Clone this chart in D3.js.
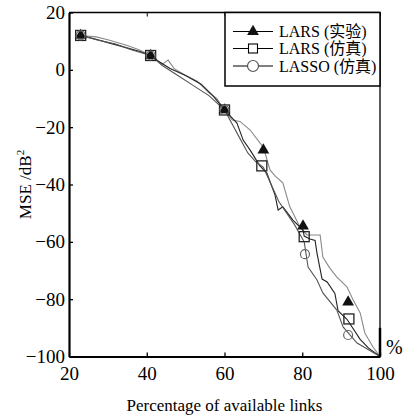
<!DOCTYPE html>
<html><head><meta charset="utf-8">
<script src="https://cdn.jsdelivr.net/npm/d3@7"></script>
<style>body{margin:0;background:#fff}svg{display:block}</style>
</head><body>
<script>
// ---- data ----
const xTicks = [20, 40, 60, 80, 100];
const yTicks = [20, 0, -20, -40, -60, -80, -100];
const seriesNames = ["LARS (实验)", "LARS (仿真)", "LASSO (仿真)"];
// LARS experiment (rightmost grey trace)
const larsExpX = [23,27,30,35,38,41,44,45.5,47,50,53,56,58,60,62,64,66.6,69.1,70,71.7,73,75,76.8,79.4,81.2,84.6,85.3,87,88.9,91.5,93,94.9,96.1,98.2,100];
const larsExpY = [12,11.5,10.5,8.5,7,5,2,3.4,0.5,-2,-4,-8,-10,-14,-17.5,-18,-21,-25.5,-27,-34.9,-37,-39.4,-47.8,-54.8,-57.6,-57.6,-65.3,-69,-72.3,-75.7,-80,-84.8,-91.8,-96.7,-100];
// LARS simulation
const larsSimX = [23,26,30,34,38,41,43,46,50,54,57,60,63.2,64.8,66.6,69.1,70.9,73,73.8,75,77.6,80.2,80.5,82,83.3,83.8,85.1,86.4,88.4,89.2,91.5,94.9,97,100];
const larsSimY = [12,11,9.5,8,6.5,5,3,0.5,-2,-5,-9,-14,-18.6,-24.5,-28,-33.5,-36,-43.7,-48.9,-47.8,-52.4,-55.9,-58,-59,-59.5,-64,-73,-74,-78,-84,-87,-94,-97,-100];
// LASSO simulation
const lassoX = [23,27,32,36,41,44,48,52,56,60,62,64,66,68,70,72,74,76,78,80.5,81.5,83.8,85.3,88.9,90.5,94.1,100];
const lassoY = [12,10.5,9,7,5,1.5,-2,-5.5,-9,-14,-19,-24,-29,-32,-34,-40,-46,-50,-54,-60,-68.8,-73.3,-77.8,-83.8,-89.7,-95.3,-100];
// marker points
const triX = [23,41,60,70,80.2,91.8];
const triY = [12,5,-14,-28,-54.5,-81];
const sqX  = [23,41,60,69.6,80.5,92];
const sqY  = [12,5,-14,-33.5,-58.2,-86.9];
const cirX = [23,41,60,80.7,91.8];
const cirY = [12,5,-14,-64.3,-92.5];

// ---- drawing ----
const W = 406, H = 417;
const m = {left: 69, right: 380, top: 12.5, bottom: 356.5};
const serif = "'Liberation Serif','Times New Roman','Noto Sans CJK SC',serif";
const svg = d3.select("body").append("svg").attr("width", W).attr("height", H);
const x = d3.scaleLinear().domain([20, 100]).range([m.left, m.right]);
const y = d3.scaleLinear().domain([-100, 20]).range([m.bottom, m.top]);

const pts = (xs, ys) => xs.map((v, i) => [v, ys[i]]);
const line = d3.line().x(d => x(d[0])).y(d => y(d[1]));

// lines
const lines = [
  {d: pts(larsExpX, larsExpY), c: "#8a8a8a"},
  {d: pts(larsSimX, larsSimY), c: "#222"},
  {d: pts(lassoX, lassoY), c: "#555"}
];
lines.forEach(l => svg.append("path").attr("d", line(l.d)).attr("fill", "none")
  .attr("stroke", l.c).attr("stroke-width", 1.1));

// markers
const g = svg.append("g");
g.selectAll(".tri").data(pts(triX, triY)).join("path")
  .attr("d", d3.symbol(d3.symbolTriangle, 60)())
  .attr("transform", d => `translate(${x(d[0])},${y(d[1])})`).attr("fill", "#111");
g.selectAll(".sq").data(pts(sqX, sqY)).join("rect")
  .attr("x", d => x(d[0]) - 5).attr("y", d => y(d[1]) - 5).attr("width", 10).attr("height", 10)
  .attr("fill", "none").attr("stroke", "#222").attr("stroke-width", 1.3);
g.selectAll(".ci").data(pts(cirX, cirY)).join("circle")
  .attr("cx", d => x(d[0])).attr("cy", d => y(d[1])).attr("r", 4.5)
  .attr("fill", "none").attr("stroke", "#666").attr("stroke-width", 1.2);

// frame
svg.append("line").attr("x1", m.left).attr("x2", m.right).attr("y1", m.top).attr("y2", m.top).attr("stroke", "#000").attr("stroke-width", 1.5);
svg.append("line").attr("x1", m.right).attr("x2", m.right).attr("y1", m.top).attr("y2", m.bottom).attr("stroke", "#000").attr("stroke-width", 1.3);
svg.append("line").attr("x1", m.right).attr("x2", m.right).attr("y1", y(-90)).attr("y2", m.bottom).attr("stroke", "#000").attr("stroke-width", 2.5);

// axes
const xAxis = d3.axisBottom(x).tickValues(xTicks).tickSizeInner(-4).tickSizeOuter(0).tickPadding(10);
const gx = svg.append("g").attr("transform", `translate(0,${m.bottom})`).call(xAxis);
const xTop = d3.axisTop(x).tickValues(xTicks).tickSizeInner(-4).tickSizeOuter(0).tickFormat("");
svg.append("g").attr("transform", `translate(0,${m.top})`).call(xTop).select(".domain").remove();
const yAxis = d3.axisLeft(y).tickValues(yTicks).tickSizeInner(-4).tickSizeOuter(0).tickPadding(4)
  .tickFormat(d => d < 0 ? "\u2212" + Math.abs(d) : d);
const gy = svg.append("g").attr("transform", `translate(${m.left},0)`).call(yAxis);
[gx, gy].forEach(a => {
  a.select(".domain").attr("stroke-width", 2.2);
  a.selectAll(".tick line").attr("stroke-width", 1.3);
  a.selectAll("text").attr("font-family", serif).attr("font-size", 19).attr("fill", "#000");
});
gx.selectAll("text").attr("dy", "0.71em");

// axis titles
svg.append("text").attr("x", (m.left + m.right) / 2).attr("y", 411).attr("text-anchor", "middle")
  .attr("font-family", serif).attr("font-size", 17).text("Percentage of available links");
const yl = svg.append("text").attr("transform", `translate(31,${(m.top + m.bottom) / 2}) rotate(-90)`)
  .attr("text-anchor", "middle").attr("font-family", serif).attr("font-size", 17);
yl.append("tspan").text("MSE /dB");
yl.append("tspan").attr("font-size", 11).attr("dy", -7).text("2");
svg.append("text").attr("x", 386).attr("y", 354).attr("font-family", serif).attr("font-size", 20).text("%");

// legend
const lg = svg.append("g");
lg.append("rect").attr("x", 225).attr("y", m.top).attr("width", m.right - 225).attr("height", 86 - m.top)
  .attr("fill", "#fff").attr("stroke", "#000").attr("stroke-width", 1.5);
const ly = [31.5, 48.5, 66];
seriesNames.forEach((nm, i) => {
  lg.append("line").attr("x1", 233).attr("x2", 273).attr("y1", ly[i]).attr("y2", ly[i]).attr("stroke", "#000").attr("stroke-width", 1.1);
  lg.append("text").attr("x", 279).attr("y", ly[i]).attr("dy", "0.35em").attr("font-family", serif)
    .attr("font-size", 16).text(nm);
});
lg.append("path").attr("d", d3.symbol(d3.symbolTriangle, 60)()).attr("transform", `translate(253,${ly[0]})`).attr("fill", "#111");
lg.append("rect").attr("x", 248.5).attr("y", ly[1] - 4.5).attr("width", 9).attr("height", 9).attr("fill", "#fff").attr("stroke", "#000").attr("stroke-width", 1.1);
lg.append("circle").attr("cx", 253).attr("cy", ly[2]).attr("r", 5.5).attr("fill", "#fff").attr("stroke", "#555").attr("stroke-width", 1.2);
</script>
</body></html>
